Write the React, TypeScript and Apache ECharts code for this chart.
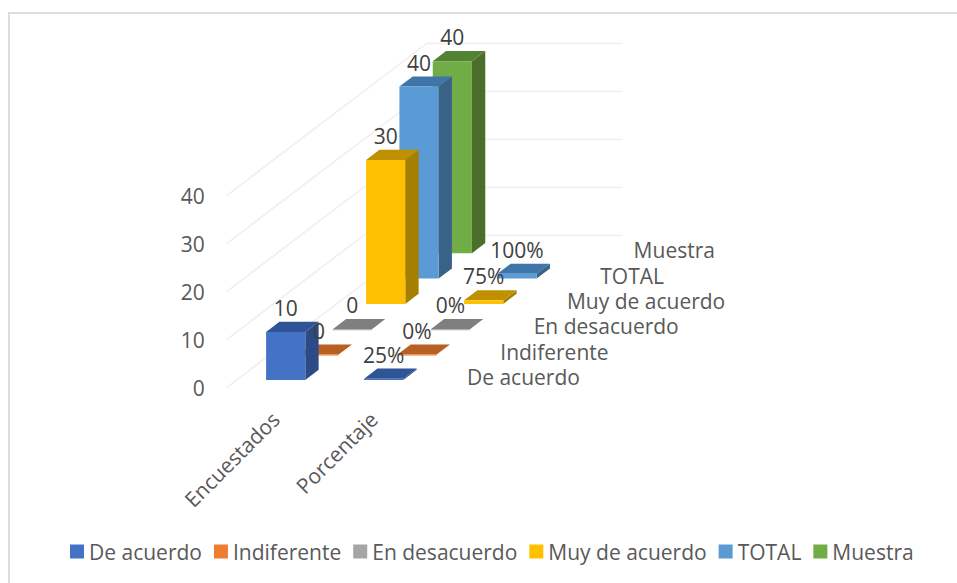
import React, { useEffect, useRef } from "react";
import * as echarts from "echarts";

const categories = ["Encuestados", "Porcentaje"];
const seriesNames = ["De acuerdo", "Indiferente", "En desacuerdo", "Muy de acuerdo", "TOTAL", "Muestra"];
const deAcuerdo = [10, 0.25];
const indiferente = [0, 0];
const enDesacuerdo = [0, 0];
const muyDeAcuerdo = [30, 0.75];
const total = [40, 1];
const muestra = [40];
const encuestadosLabels = ["10", "0", "0", "30", "40", "40"];
const porcentajeLabels = ["25%", "0%", "0%", "75%", "100%"];
const valueTicks = [0, 10, 20, 30, 40];

const allValues = [deAcuerdo, indiferente, enDesacuerdo, muyDeAcuerdo, total, muestra];
const frontColors = ["#4472C4", "#ED7D31", "#A5A5A5", "#FFC000", "#5B9BD5", "#70AD47"];
const topColors = ["#2F5597", "#B85F24", "#7F7F7F", "#BF9000", "#3F75A8", "#548235"];
const sideColors = ["#2C4B86", "#A04F1C", "#6E6E6E", "#A67F00", "#386288", "#4B6F2B"];

const FONT = '"Open Sans", sans-serif';
const FONT_SIZE = 21;
const DX = 33.33;
const DY = 25.33;
const DEPTH_COUNT = seriesNames.length;

const barSeries = seriesNames.map((name, s) => ({
  type: "custom",
  name,
  z: 20 - s,
  silent: true,
  itemStyle: { color: frontColors[s] },
  data: allValues[s].map((v, i) => [i, v]),
  encode: { x: 0, y: 1 },
  renderItem: (_p: any, api: any) => {
    const i = api.value(0);
    const v = api.value(1);
    const band = api.size([1, 0])[0];
    const w = band * 0.4;
    const top = api.coord([i, v]);
    const base = api.coord([i, 0]);
    const ox = -w / 2 + (s + 0.3) * DX;
    const oy = -(s + 0.3) * DY;
    const ddx = 0.4 * DX;
    const ddy = 0.4 * DY;
    const x0 = base[0] + ox;
    const x1 = x0 + w;
    const yb = base[1] + oy;
    const yt = top[1] + oy;
    return {
      type: "group",
      children: [
        {
          type: "polygon",
          shape: { points: [[x1, yb], [x1 + ddx, yb - ddy], [x1 + ddx, yt - ddy], [x1, yt]] },
          style: { fill: sideColors[s] },
        },
        {
          type: "polygon",
          shape: { points: [[x0, yt], [x1, yt], [x1 + ddx, yt - ddy], [x0 + ddx, yt - ddy]] },
          style: { fill: topColors[s] },
        },
        {
          type: "rect",
          shape: { x: x0, y: yt, width: w, height: Math.max(yb - yt, 1) },
          style: { fill: frontColors[s] },
        },
      ],
    };
  },
}));

const wallSeries = {
  type: "custom",
  name: "pared",
  z: 1,
  silent: true,
  data: valueTicks.map((v) => [0, v]),
  encode: { x: 0, y: 1 },
  renderItem: (_p: any, api: any) => {
    const band = api.size([1, 0])[0];
    const c = api.coord([0, api.value(1)]);
    const x0 = c[0] - band / 2;
    const x1 = x0 + DEPTH_COUNT * DX;
    const y1 = c[1] - DEPTH_COUNT * DY;
    return {
      type: "polyline",
      shape: { points: [[x0, c[1]], [x1, y1], [x1 + band * categories.length, y1]] },
      style: { stroke: "#EFEFEF", lineWidth: 1.5, fill: "none" },
    };
  },
};

const labelRows: any[] = [];
encuestadosLabels.forEach((t, s) => labelRows.push({ i: 0, s, t }));
porcentajeLabels.forEach((t, s) => labelRows.push({ i: 1, s, t }));

const labelSeries = {
  type: "custom",
  name: "etiquetas",
  z: 40,
  silent: true,
  data: labelRows.map((r) => [r.i, allValues[r.s][r.i]]),
  encode: { x: 0, y: 1 },
  renderItem: (p: any, api: any) => {
    const r = labelRows[p.dataIndex];
    const top = api.coord([api.value(0), api.value(1)]);
    return {
      type: "text",
      style: {
        text: r.t,
        x: top[0] + (r.s + 0.3) * DX,
        y: top[1] - (r.s + 0.3) * DY - 24,
        textAlign: "center",
        textVerticalAlign: "middle",
        fill: "#404040",
        font: `${FONT_SIZE}px ${FONT}`,
      },
    };
  },
};

const depthLabelSeries = {
  type: "custom",
  name: "profundidad",
  z: 41,
  silent: true,
  data: seriesNames.map(() => [1, 0]),
  encode: { x: 0, y: 1 },
  renderItem: (p: any, api: any) => {
    const band = api.size([1, 0])[0];
    const c = api.coord([1, 0]);
    return {
      type: "text",
      style: {
        text: seriesNames[p.dataIndex],
        x: c[0] + band / 2 + (p.dataIndex + 0.5) * DX + 27.6,
        y: c[1] - (p.dataIndex + 0.5) * DY + 2,
        textAlign: "left",
        textVerticalAlign: "middle",
        fill: "#595959",
        font: `${FONT_SIZE}px ${FONT}`,
      },
    };
  },
};

export default function App() {
  const ref = useRef<HTMLDivElement>(null);
  useEffect(() => {
    document.body.style.margin = "0";
    const chart = echarts.init(ref.current!, undefined, { renderer: "svg" });
    chart.setOption({
      animation: false,
      backgroundColor: "#FFFFFF",
      graphic: [
        {
          type: "polyline",
          silent: true,
          z: 0,
          shape: { points: [[9, 583], [9, 13], [957, 13]] },
          style: { fill: "none", stroke: "#DDDDDD", lineWidth: 2 },
        },
      ],
      legend: {
        data: seriesNames,
        left: 65,
        top: 536,
        icon: "rect",
        itemWidth: 14,
        itemHeight: 14,
        itemGap: 12,
        selectedMode: false,
        textStyle: { fontFamily: FONT, fontSize: FONT_SIZE, color: "#595959" },
      },
      grid: { left: 226.7, width: 196, top: 195.5, height: 192 },
      xAxis: {
        type: "category",
        data: categories,
        axisLine: { show: false },
        axisTick: { show: false },
        axisLabel: { rotate: 45, fontFamily: FONT, fontSize: FONT_SIZE, color: "#595959", margin: 28, interval: 0 },
      },
      yAxis: {
        type: "value",
        min: 0,
        max: 40,
        interval: 10,
        splitLine: { show: false },
        axisLine: { show: false },
        axisTick: { show: false },
        axisLabel: { fontFamily: FONT, fontSize: FONT_SIZE, color: "#595959", margin: 22 },
      },
      series: [wallSeries, ...barSeries, labelSeries, depthLabelSeries],
    });
    return () => chart.dispose();
  }, []);
  return <div ref={ref} style={{ position: "fixed", left: 0, top: 0, width: 957, height: 583 }} />;
}
